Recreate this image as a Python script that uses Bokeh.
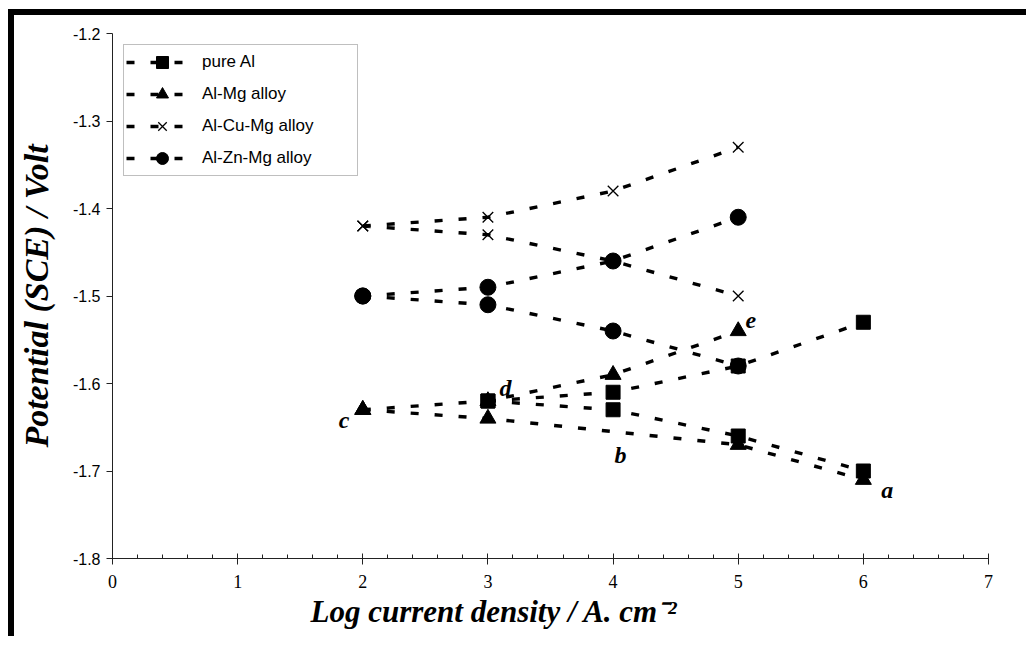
import math
from bokeh.plotting import figure
from bokeh.models import (Legend, LegendItem, Label, Title, SingleIntervalTicker,
                          PrintfTickFormatter, ColumnDataSource)
from bokeh.embed import file_html
from bokeh.resources import INLINE

# ---- data (log current density, potential V vs SCE) ----
series_names = ["pure Al", "Al-Mg alloy", "Al-Cu-Mg alloy", "Al-Zn-Mg alloy"]

pure_al_up_x = [3, 4, 5, 6]
pure_al_up_y = [-1.62, -1.61, -1.58, -1.53]
pure_al_dn_x = [3, 4, 5, 6]
pure_al_dn_y = [-1.62, -1.63, -1.66, -1.70]

al_mg_up_x = [2, 3, 4, 5]
al_mg_up_y = [-1.63, -1.62, -1.59, -1.54]
al_mg_dn_x = [2, 3, 5, 6]
al_mg_dn_y = [-1.63, -1.64, -1.67, -1.71]

al_cu_mg_up_x = [2, 3, 4, 5]
al_cu_mg_up_y = [-1.42, -1.41, -1.38, -1.33]
al_cu_mg_dn_x = [2, 3, 4, 5]
al_cu_mg_dn_y = [-1.42, -1.43, -1.46, -1.50]

al_zn_mg_up_x = [2, 3, 4, 5]
al_zn_mg_up_y = [-1.50, -1.49, -1.46, -1.41]
al_zn_mg_dn_x = [2, 3, 4, 5]
al_zn_mg_dn_y = [-1.50, -1.51, -1.54, -1.58]

curve_labels = ["a", "b", "c", "d", "e"]
curve_label_x = [6.19, 4.06, 1.85, 3.14, 5.10]
curve_label_y = [-1.722, -1.682, -1.642, -1.605, -1.528]

x_title = "Log current density / A. cm\u207b\u00b2"
y_title = "Potential (SCE) / Volt"

MARGIN_L, MARGIN_T = 8, 9
BORDER = 6
FRAME_L, FRAME_T, FRAME_R, FRAME_B = 112, 33, 988, 558
W, H = 1018, 627

p = figure(width=W, height=H, output_backend="svg", toolbar_location=None,
           x_range=(0, 7), y_range=(-1.8, -1.2),
           min_border_left=FRAME_L - MARGIN_L - BORDER,
           min_border_top=FRAME_T - MARGIN_T - BORDER,
           min_border_right=MARGIN_L + BORDER + W - FRAME_R,
           min_border_bottom=MARGIN_T + BORDER + H - FRAME_B)
p.styles = {"border-left": f"{BORDER}px solid black",
            "border-top": f"{BORDER}px solid black",
            "margin-left": f"{MARGIN_L}px", "margin-top": f"{MARGIN_T}px"}
p.outline_line_color = None
p.xgrid.visible = False
p.ygrid.visible = False
p.background_fill_color = "white"
p.border_fill_color = "white"

p.xaxis.ticker = SingleIntervalTicker(interval=1, num_minor_ticks=5)
p.yaxis.ticker = SingleIntervalTicker(interval=0.1, num_minor_ticks=0)
p.yaxis.formatter = PrintfTickFormatter(format="%.1f")

for ax in (p.xaxis[0], p.yaxis[0]):
    ax.axis_line_color = "#222222"
    ax.major_tick_line_color = "#222222"
    ax.minor_tick_line_color = "#222222"
    ax.major_label_text_color = "black"
    ax.axis_label_text_color = "black"
    ax.axis_label_text_font = "Liberation Serif"
    ax.axis_label_text_font_style = "bold italic"

p.xaxis.major_tick_in = 5
p.xaxis.major_tick_out = 6
p.xaxis.minor_tick_in = 4
p.xaxis.minor_tick_out = 0
p.xaxis.major_label_text_font = "Liberation Sans Narrow"
p.xaxis.major_label_text_font_size = "18px"
p.xaxis.major_label_standoff = 10

p.yaxis.major_tick_in = 0
p.yaxis.major_tick_out = 6
p.yaxis.minor_tick_out = 0
p.yaxis.major_label_text_font = "Liberation Sans"
p.yaxis.major_label_text_font_size = "16px"
p.yaxis.major_label_standoff = 6
p.yaxis.axis_label = y_title
p.yaxis.axis_label_text_font_size = "34px"
p.yaxis.axis_label_standoff = 15

# x-axis title as a bottom title so it can sit left of centre like the original
p.add_layout(Title(text=x_title, align="left", offset=310 - FRAME_L,
                   text_font="Liberation Serif", text_font_style="bold italic",
                   text_font_size="31px", text_color="black", standoff=2), "below")


def joined(ax, ay, bx, by):
    return ax + [math.nan] + bx, ay + [math.nan] + by


specs = [
    ("Al-Cu-Mg alloy", al_cu_mg_up_x, al_cu_mg_up_y, al_cu_mg_dn_x, al_cu_mg_dn_y, "x", 15),
    ("Al-Zn-Mg alloy", al_zn_mg_up_x, al_zn_mg_up_y, al_zn_mg_dn_x, al_zn_mg_dn_y, "circle", 16),
    ("Al-Mg alloy", al_mg_up_x, al_mg_up_y, al_mg_dn_x, al_mg_dn_y, "triangle", 16),
    ("pure Al", pure_al_up_x, pure_al_up_y, pure_al_dn_x, pure_al_dn_y, "square", 14),
]

items = {}
for name, ux, uy, dx, dy, marker, size in specs:
    xs, ys = joined(ux, uy, dx, dy)
    src = ColumnDataSource(dict(x=xs, y=ys))
    ln = p.line("x", "y", source=src, line_color="black", line_width=3.4, line_dash="8 16")
    if marker == "x":
        sc = p.scatter("x", "y", source=src, marker="x", size=size, line_color="black", line_width=1.3)
    else:
        sc = p.scatter("x", "y", source=src, marker=marker, size=size,
                       fill_color="black", line_color="black")
    items[name] = LegendItem(label=name, renderers=[ln, sc])

legend = Legend(items=[items[n] for n in series_names], location="top_left",
                margin=11, padding=2, spacing=2, glyph_width=72, glyph_height=30,
                label_height=30, label_width=153, label_standoff=4,
                label_text_font="Liberation Sans", label_text_font_size="17px",
                label_text_color="black",
                border_line_color="#808080", border_line_width=1,
                background_fill_color="white", background_fill_alpha=1.0)
p.add_layout(legend, "center")

for t, lx, ly in zip(curve_labels, curve_label_x, curve_label_y):
    p.add_layout(Label(x=lx, y=ly, text=t, text_font="Liberation Serif",
                       text_font_style="bold italic", text_font_size="24px",
                       text_align="center", text_baseline="middle", text_color="black"))

open("out.html", "w").write(file_html(p, INLINE))
